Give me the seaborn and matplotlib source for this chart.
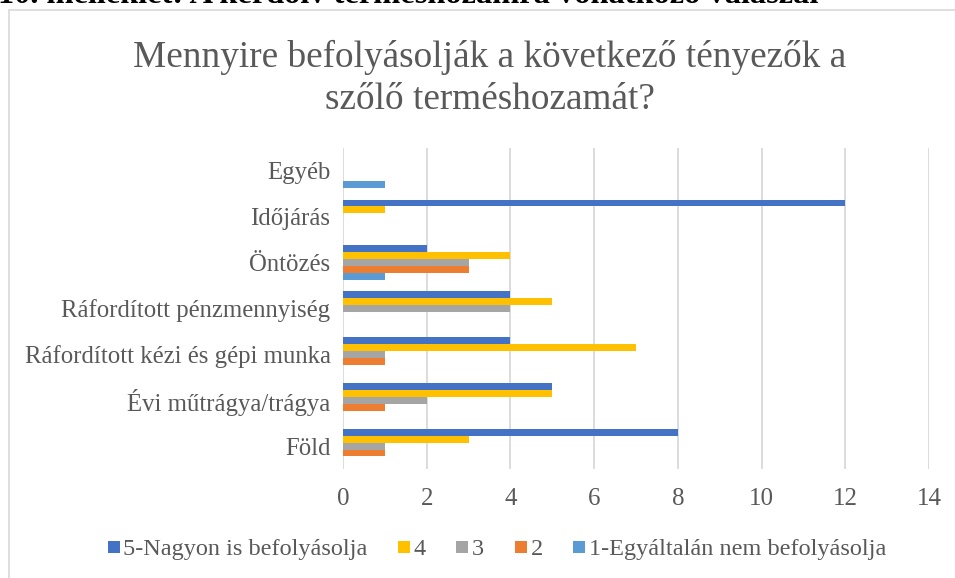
import matplotlib
matplotlib.use("Agg")
import matplotlib.pyplot as plt
from matplotlib.patches import Rectangle
from matplotlib.lines import Line2D
import seaborn as sns
import pandas as pd

# Survey answers: how strongly each factor affects grape yield
factors = ["Egyéb", "Időjárás", "Öntözés", "Ráfordított pénzmennyiség",
           "Ráfordított kézi és gépi munka", "Évi műtrágya/trágya", "Föld"]
levels = ["5-Nagyon is befolyásolja", "4", "3", "2", "1-Egyáltalán nem befolyásolja"]
level5 = [0, 12, 2, 4, 4, 5, 8]
level4 = [0, 1, 4, 5, 7, 5, 3]
level3 = [0, 0, 3, 4, 1, 2, 1]
level2 = [0, 0, 3, 0, 1, 1, 1]
level1 = [1, 0, 1, 0, 0, 0, 0]
x_ticks = [0, 2, 4, 6, 8, 10, 12, 14]

colors = ["#4472C4", "#FFC000", "#A5A5A5", "#ED7D31", "#5B9BD5"]

rows = []
for lvl, vals in zip(levels, [level5, level4, level3, level2, level1]):
    for f, v in zip(factors, vals):
        rows.append({"factor": f, "level": lvl, "count": v})
df = pd.DataFrame(rows)

sns.set_theme(style="white")
plt.rcParams["font.family"] = ["Liberation Serif", "DejaVu Serif"]

fig = plt.figure(figsize=(9.55, 5.78), dpi=100)
ax = fig.add_axes([343 / 955, 1 - 469 / 578, (929 - 343) / 955, (469 - 148) / 578])

sns.barplot(data=df, y="factor", x="count", hue="level", order=factors,
            hue_order=levels, palette=colors, orient="h", width=0.75,
            linewidth=0, saturation=1, legend=False, ax=ax)

ax.set_xlim(0, 14)
ax.set_xticks(x_ticks)
ax.set_xlabel("")
ax.set_ylabel("")
for s in ax.spines.values():
    s.set_visible(False)
ax.grid(axis="x", color="#d9d9d9", linewidth=1.3)
ax.grid(axis="y", visible=False)
ax.set_axisbelow(True)
ax.tick_params(axis="x", length=0, pad=14, labelsize=18, labelcolor="#595959")
ax.tick_params(axis="y", length=0, pad=9, labelsize=17.8, labelcolor="#595959")

# Chart frame
fig.patches.append(Rectangle((9 / 955, -0.05), 1.2, 1.05 - 10 / 578,
                             transform=fig.transFigure, fill=False,
                             edgecolor="#d9d9d9", linewidth=1.2))

# Caption above the chart (runs past the top of the page)
fig.text(-2 / 955, 1 - 3 / 578, "10. melléklet: A kérdőív terméshozamra vonatkozó válaszai",
         ha="left", va="baseline", fontsize=23.3, fontweight="bold", color="black")

# Chart title
fig.text(490 / 955, 1 - 57 / 578, "Mennyire befolyásolják a következő tényezők a",
         ha="center", va="center", fontsize=26.8, color="#595959")
fig.text(490 / 955, 1 - 100 / 578, "szőlő terméshozamát?",
         ha="center", va="center", fontsize=26.8, color="#595959")

handles = [Line2D([], [], marker="s", linestyle="none", markersize=8.5,
                  markerfacecolor=c, markeredgewidth=0) for c in colors]
fig.legend(handles, levels, loc="center", bbox_to_anchor=(495 / 955, 1 - 549 / 578),
           ncol=5, frameon=False, fontsize=17.5, labelcolor="#595959",
           handletextpad=0.0, columnspacing=1.1, handlelength=0.8)

fig.savefig("out.png", dpi=100)
